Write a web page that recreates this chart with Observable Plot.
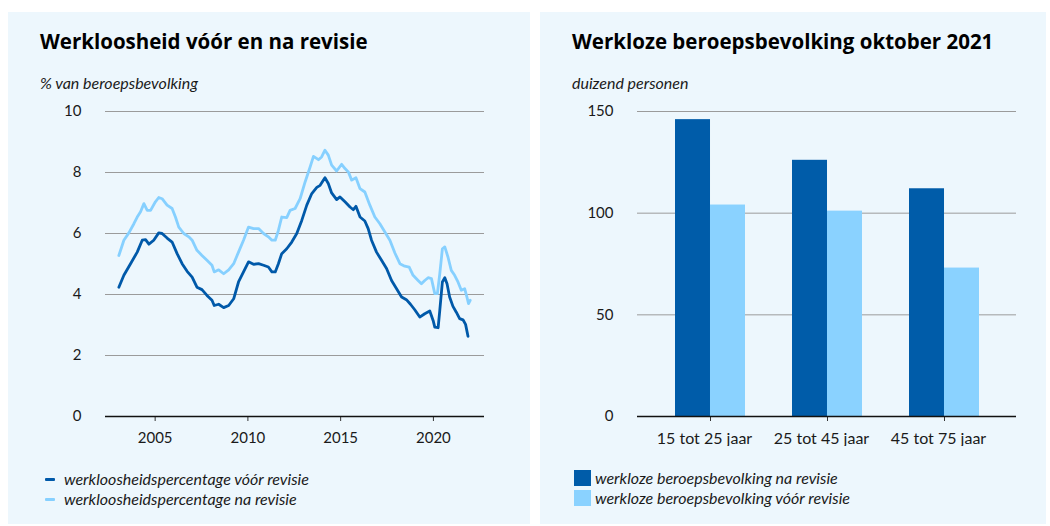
<!DOCTYPE html>
<html>
<head>
<meta charset="utf-8">
<script src="https://cdn.jsdelivr.net/npm/d3@7"></script>
<script src="https://cdn.jsdelivr.net/npm/@observablehq/plot@0.6"></script>
<style>
  html, body { margin: 0; padding: 0; background: #ffffff; }
  body { width: 1050px; height: 526px; position: relative; overflow: hidden; font-family: Lato, "Open Sans", sans-serif; }
  .panel { position: absolute; top: 12px; height: 512px; background: #edf7fd; }
  .title { position: absolute; left: 32px; top: 17px; font-family: "Open Sans", Lato, sans-serif; font-size: 20.5px; font-weight: 700; line-height: 24px; color: #000; white-space: nowrap; }
  .subtitle { position: absolute; left: 32px; top: 62px; font-size: 16px; font-style: italic; line-height: 18px; color: #1a1a1a; white-space: nowrap; }
  .chart { position: absolute; left: 0; top: 88px; }
  .legend { position: absolute; font-size: 16px; font-style: italic; color: #1a1a1a; line-height: 20px; white-space: nowrap; }
  .legend .row { position: relative; height: 20px; }
  .sw-line { position: absolute; width: 10px; height: 3px; top: 9px; border-radius: 1px; }
  .sw-box { position: absolute; width: 17px; height: 16px; top: 2px; }
</style>
</head>
<body>
<div class="panel" id="p1" style="left:8px; width:522px;">
  <div class="title">Werkloosheid vóór en na revisie</div>
  <div class="subtitle">% van beroepsbevolking</div>
  <div class="chart" id="c1"></div>
  <div class="legend" style="left:37px; top:457px;">
    <div class="row"><span class="sw-line" style="left:0; background:#0059a9"></span><span style="position:absolute; left:19px;">werkloosheidspercentage vóór revisie</span></div>
    <div class="row"><span class="sw-line" style="left:0; background:#86d0ff"></span><span style="position:absolute; left:19px;">werkloosheidspercentage na revisie</span></div>
  </div>
</div>
<div class="panel" id="p2" style="left:540px; width:506px;">
  <div class="title">Werkloze beroepsbevolking oktober 2021</div>
  <div class="subtitle">duizend personen</div>
  <div class="chart" id="c2"></div>
  <div class="legend" style="left:34px; top:456px;">
    <div class="row"><span class="sw-box" style="left:0; background:#005ca9"></span><span style="position:absolute; left:21px;">werkloze beroepsbevolking na revisie</span></div>
    <div class="row"><span class="sw-box" style="left:0; background:#8ad2ff"></span><span style="position:absolute; left:21px;">werkloze beroepsbevolking vóór revisie</span></div>
  </div>
</div>
<script>
// ---- Left chart data: unemployment rate (% of labour force) ----
const yearsVoor = [2002.99,2003.26,2003.62,2003.98,2004.25,2004.43,2004.61,2004.87,2005.14,2005.32,2005.59,2005.86,2006.13,2006.40,2006.67,2006.94,2007.20,2007.47,2007.74,2008.01,2008.13,2008.37,2008.64,2008.91,2009.18,2009.44,2009.71,2009.98,2010.25,2010.52,2010.79,2011.05,2011.24,2011.42,2011.59,2011.77,2012.04,2012.31,2012.58,2012.85,2013.12,2013.39,2013.66,2013.84,2014.10,2014.28,2014.46,2014.73,2014.91,2015.18,2015.45,2015.63,2015.77,2015.99,2016.25,2016.43,2016.61,2016.88,2017.15,2017.42,2017.69,2017.96,2018.23,2018.49,2018.71,2018.94,2019.21,2019.48,2019.75,2019.93,2020.02,2020.20,2020.29,2020.43,2020.56,2020.68,2020.82,2021.00,2021.18,2021.36,2021.54,2021.68,2021.81];
const valuesVoor = [4.24,4.63,5.01,5.39,5.78,5.80,5.65,5.78,6.02,6.00,5.85,5.72,5.34,5.01,4.76,4.57,4.24,4.16,3.97,3.81,3.64,3.68,3.57,3.64,3.86,4.41,4.74,5.07,4.99,5.01,4.96,4.90,4.74,4.74,5.01,5.34,5.50,5.72,6.00,6.43,6.93,7.31,7.51,7.58,7.83,7.64,7.33,7.11,7.20,7.04,6.87,6.78,6.89,6.54,6.41,6.16,5.78,5.39,5.12,4.85,4.46,4.19,3.92,3.83,3.68,3.50,3.26,3.37,3.46,3.15,2.93,2.91,3.48,4.41,4.55,4.35,3.92,3.61,3.42,3.21,3.17,3.02,2.63];
const yearsNa = [2002.99,2003.26,2003.53,2003.80,2003.98,2004.16,2004.34,2004.52,2004.70,2004.96,2005.14,2005.32,2005.59,2005.86,2006.04,2006.22,2006.49,2006.76,2006.94,2007.20,2007.47,2007.74,2008.01,2008.13,2008.37,2008.64,2008.91,2009.18,2009.44,2009.71,2009.98,2010.25,2010.52,2010.79,2011.05,2011.24,2011.42,2011.59,2011.77,2012.04,2012.22,2012.49,2012.76,2013.03,2013.30,2013.48,2013.75,2013.92,2014.10,2014.28,2014.46,2014.73,2015.00,2015.18,2015.36,2015.54,2015.77,2015.99,2016.25,2016.52,2016.79,2017.06,2017.33,2017.60,2017.87,2018.14,2018.40,2018.64,2018.85,2019.12,2019.30,2019.48,2019.66,2019.84,2020.02,2020.16,2020.29,2020.43,2020.56,2020.73,2020.91,2021.09,2021.27,2021.45,2021.63,2021.75,2021.84,2021.93];
const valuesNa = [5.28,5.78,6.02,6.32,6.54,6.71,6.98,6.76,6.76,7.04,7.18,7.14,6.93,6.82,6.54,6.21,6.00,5.89,5.78,5.45,5.28,5.12,4.96,4.74,4.81,4.68,4.81,5.01,5.39,5.78,6.21,6.16,6.16,6.00,5.89,5.78,5.78,6.10,6.54,6.52,6.76,6.82,7.14,7.69,8.18,8.53,8.42,8.51,8.73,8.57,8.24,8.05,8.27,8.13,8.02,7.75,7.83,7.47,7.36,6.93,6.54,6.32,6.05,5.78,5.36,5.01,4.93,4.90,4.63,4.46,4.35,4.46,4.55,4.52,4.03,4.03,4.68,5.50,5.56,5.23,4.79,4.63,4.41,4.14,4.19,3.92,3.70,3.81];
const yTicksLeft = [0, 2, 4, 6, 8, 10];
const xTicksLeft = [2005, 2010, 2015, 2020];

// ---- Right chart data: unemployed labour force Oct 2021 (x1000) ----
const ageGroups = ["15 tot 25 jaar", "25 tot 45 jaar", "45 tot 75 jaar"];
const naRevisie = [146, 126, 112];
const voorRevisie = [104, 101, 73];
const yTicksRight = [0, 50, 100, 150];

const DARK = "#0059a9", LIGHT = "#86d0ff";
const BAR_DARK = "#005ca9", BAR_LIGHT = "#8ad2ff";

const dataVoor = yearsVoor.map((x, i) => ({x, y: valuesVoor[i]}));
const dataNa = yearsNa.map((x, i) => ({x, y: valuesNa[i]}));

const commonStyle = {background: "transparent", fontFamily: "Lato, 'Open Sans', sans-serif", fontSize: "15px", color: "#1a1a1a"};

const left = Plot.plot({
  width: 522, height: 346,
  marginLeft: 97, marginRight: 46, marginTop: 11, marginBottom: 30,
  style: commonStyle,
  x: {domain: [2002.27, 2022.7], label: null},
  y: {domain: [0, 10], label: null},
  marks: [
    Plot.ruleY(yTicksLeft.filter(d => d > 0), {stroke: "#9b9b9b", strokeWidth: 1}),
    Plot.axisX({ticks: xTicksLeft, tickFormat: d => String(d), tickSize: 5, tickPadding: 11, stroke: "#333", dx: -1}),
    Plot.axisY({ticks: yTicksLeft, tickSize: 0, tickPadding: 24}),
    Plot.line(dataNa, {x: "x", y: "y", stroke: LIGHT, strokeWidth: 2.8, curve: "linear"}),
    Plot.line(dataVoor, {x: "x", y: "y", stroke: DARK, strokeWidth: 2.8, curve: "linear"}),
    Plot.ruleY([0], {stroke: "#111", strokeWidth: 1.6})
  ]
});
document.getElementById("c1").appendChild(left);

const rWidth = 506, rMarginLeft = 97, rMarginRight = 30;
const pIn = 0.403, pOut = 0.318;
const bw = d3.scaleBand().domain(ageGroups).range([0, rWidth - rMarginLeft - rMarginRight]).paddingInner(pIn).paddingOuter(pOut).bandwidth();

const right = Plot.plot({
  width: rWidth, height: 346,
  marginLeft: rMarginLeft, marginRight: rMarginRight, marginTop: 11, marginBottom: 30,
  style: commonStyle,
  x: {domain: ageGroups, paddingInner: pIn, paddingOuter: pOut, label: null},
  y: {domain: [0, 150], label: null},
  marks: [
    Plot.ruleY(yTicksRight.filter(d => d > 0), {stroke: "#9b9b9b", strokeWidth: 1}),
    Plot.axisX({tickSize: 5, stroke: "#333", text: null}),
    Plot.axisX({tickSize: 0, tickPadding: 16, fontSize: 16, dx: -6}),
    Plot.axisY({ticks: yTicksRight, tickSize: 0, tickPadding: 24}),
    Plot.barY(naRevisie, {x: ageGroups, y: naRevisie, fill: BAR_DARK, insetRight: bw / 2}),
    Plot.barY(voorRevisie, {x: ageGroups, y: voorRevisie, fill: BAR_LIGHT, insetLeft: bw / 2}),
    Plot.ruleY([0], {stroke: "#111", strokeWidth: 1.6})
  ]
});
document.getElementById("c2").appendChild(right);
</script>
</body>
</html>
